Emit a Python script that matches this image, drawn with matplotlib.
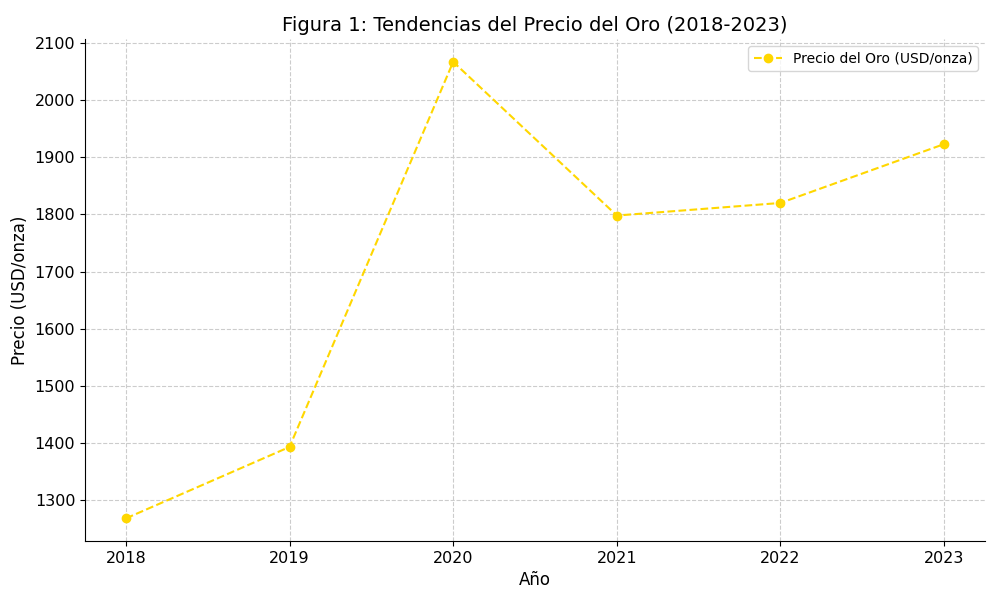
import matplotlib
matplotlib.use('Agg')
import matplotlib.pyplot as plt

# Datos
anios = [2018, 2019, 2020, 2021, 2022, 2023]
precio_oro = [1268, 1393, 2067, 1798, 1820, 1923]

fig, ax = plt.subplots(figsize=(10, 6), dpi=100)
ax.plot(anios, precio_oro, marker='o', linestyle='--', color='#FFD700',
        markersize=6, label='Precio del Oro (USD/onza)')
ax.set_title('Figura 1: Tendencias del Precio del Oro (2018-2023)', fontsize=14)
ax.set_xlabel('Año', fontsize=12)
ax.set_ylabel('Precio (USD/onza)', fontsize=12)
ax.tick_params(labelsize=11.5)
ax.grid(True, linestyle='--', color='#cccccc', linewidth=0.8)
ax.spines['top'].set_visible(False)
ax.spines['right'].set_visible(False)
ax.legend(loc='upper right')
fig.subplots_adjust(left=0.085, right=0.985, top=0.935, bottom=0.098)
fig.savefig('out.png')
